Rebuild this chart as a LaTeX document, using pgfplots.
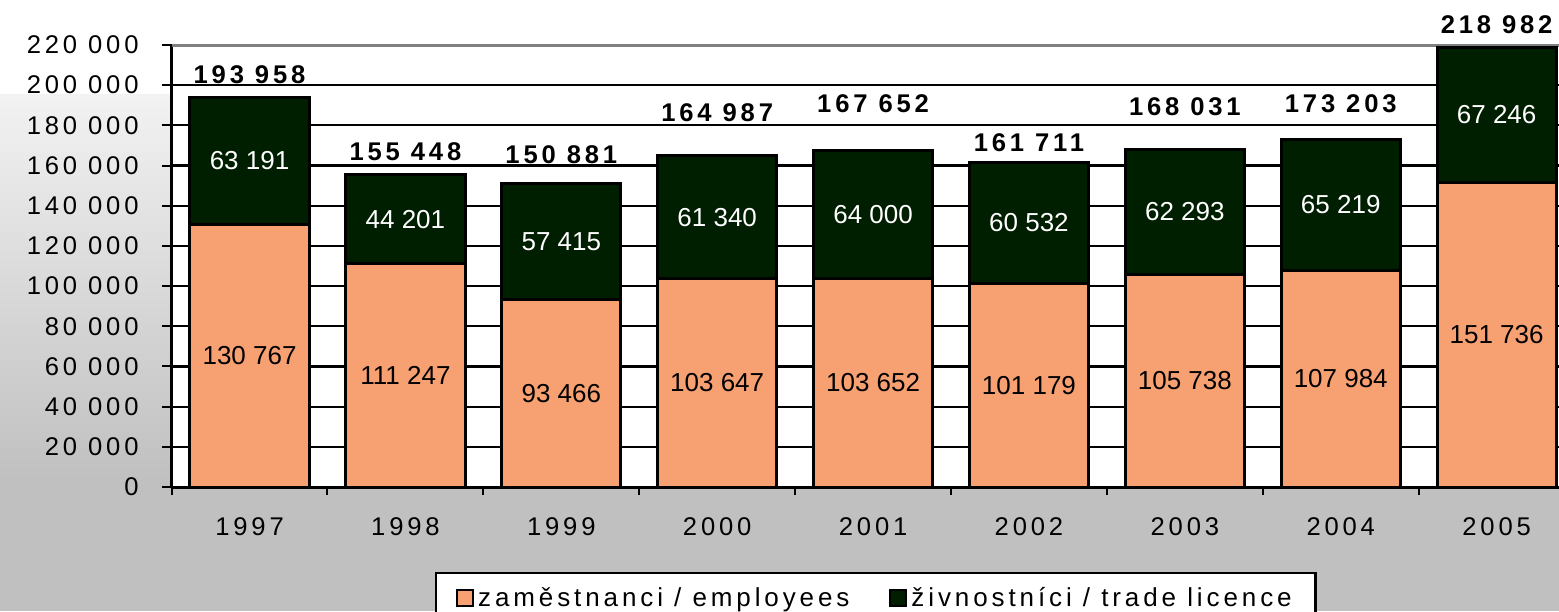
\documentclass[border=0pt]{standalone}
\usepackage{fontspec}
\setmainfont{Liberation Sans}
\newfontfamily\spaced{Liberation Sans}[LetterSpace=15]
\usepackage{pgfplots}
\pgfplotsset{compat=1.18}
\usepackage{pgfplotstable}
\definecolor{peach}{RGB}{247,160,114}
\definecolor{dkgreen}{RGB}{0,30,0}
\definecolor{bggray}{RGB}{192,192,192}
\definecolor{topgray}{RGB}{242,242,242}
\definecolor{linegray}{RGB}{128,128,128}

\pgfplotstableread{
x emp trade total ytot
0 130767 63191 193958 205100
1 111247 44201 155448 166700
2 93466 57415 150881 165300
3 103647 61340 164987 186200
4 103652 64000 167652 190600
5 101179 60532 161711 171200
6 105738 62293 168031 189100
7 107984 65219 173203 190600
8 151736 67246 218982 230000
}\data

\begin{document}
\begin{tikzpicture}
\fill[white] (-85.8pt,-62pt) rectangle (693.7pt,243.5pt);
\shade[top color=topgray, bottom color=bggray] (-85.8pt,3.5pt) rectangle (693.7pt,196pt);
\fill[bggray] (-85.8pt,-62pt) rectangle (693.7pt,3.5pt);
\begin{axis}[
  at={(0pt,0pt)}, anchor=south west,
  scale only axis, width=701.5pt, height=221pt,
  xmin=-0.5, xmax=8.5, ymin=0, ymax=220000,
  clip=false,
  scaled y ticks=false,
  /pgf/number format/assume math mode=true,
  axis x line*=bottom, axis y line*=left,
  axis line style={black, line width=1.5pt},
  axis background/.style={fill=white},
  ymajorgrids, grid style={black, line width=1.1pt},
  ytick={0,20000,...,200000},
  yticklabels={0,20 000,40 000,60 000,80 000,100 000,120 000,140 000,160 000,180 000,200 000},
  extra y ticks={220000}, extra y tick labels={220 000},
  extra y tick style={grid style={color=linegray, line width=1.5pt}},
  tick align=outside, major tick length=5pt,
  ytick style={black, line width=1pt},
  yticklabel style={font=\spaced\fontsize{12.8}{14}\selectfont, xshift=-8pt},
  xtick={0,...,8}, xticklabels={1997,1998,1999,2000,2001,2002,2003,2004,2005},
  major x tick style={draw=none},
  minor xtick={-0.5,0.5,...,8.5}, minor tick length=4pt,
  minor x tick style={black, line width=1pt},
  xticklabel style={font=\spaced\fontsize{12.8}{14}\selectfont, yshift=-7pt},
  legend image code/.code={\draw[#1, line width=1pt] (0pt,-4pt) rectangle (8pt,4pt);},
  legend style={at={(0.502,-0.1923)}, anchor=north, draw=black, line width=1.2pt,
    fill=white, font=\spaced\fontsize{13}{15}\selectfont, legend columns=2,
    inner xsep=10pt, inner ysep=5pt,
    /tikz/every even column/.append style={column sep=18pt}},
]
\addlegendimage{fill=peach, draw=black}
\addlegendentry{zaměstnanci / employees}
\addlegendimage{fill=dkgreen, draw=black}
\addlegendentry{živnostníci / trade licence}

\addplot[forget plot, ybar, bar width=0.765, bar shift=0pt, fill=dkgreen, draw=black, line width=1.5pt]
  table[x=x, y=total]{\data};
\addplot[forget plot, ybar, bar width=0.765, bar shift=0pt, fill=peach, draw=black, line width=1.5pt]
  table[x=x, y=emp]{\data};

\addplot[forget plot, only marks, mark=*, mark size=0pt, mark options={draw=none, fill=none},
  point meta=\thisrow{emp},
  nodes near coords={\pgfmathprintnumber[fixed, precision=0, 1000 sep={\ }]{\pgfplotspointmeta}},
  every node near coord/.append style={anchor=center, text=black, font=\fontsize{13}{15}\selectfont}]
  table[x=x, y expr=\thisrow{emp}/2]{\data};
\addplot[forget plot, only marks, mark=*, mark size=0pt, mark options={draw=none, fill=none},
  point meta=\thisrow{trade},
  nodes near coords={\pgfmathprintnumber[fixed, precision=0, 1000 sep={\ }]{\pgfplotspointmeta}},
  every node near coord/.append style={anchor=center, text=white, font=\fontsize{13}{15}\selectfont}]
  table[x=x, y expr=\thisrow{emp}+\thisrow{trade}/2]{\data};
\addplot[forget plot, only marks, mark=*, mark size=0pt, mark options={draw=none, fill=none},
  point meta=\thisrow{total},
  nodes near coords={\pgfmathprintnumber[fixed, precision=0, 1000 sep={\ }]{\pgfplotspointmeta}},
  every node near coord/.append style={anchor=center, text=black, font=\spaced\bfseries\fontsize{12.8}{14}\selectfont}]
  table[x=x, y=ytot]{\data};
\end{axis}
\pgfresetboundingbox
\useasboundingbox (-85.8pt,-62pt) rectangle (693.7pt,243.5pt);
\end{tikzpicture}
\end{document}
